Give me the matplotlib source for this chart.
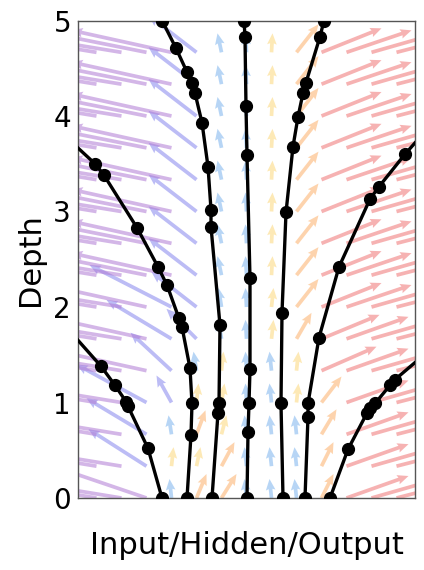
import numpy as np
import matplotlib
matplotlib.use("Agg")
import matplotlib.pyplot as plt

# ---------------- data ----------------
# vector-field grid: columns (hidden state) and rows (depth)
col_x = [-6, -5, -4, -3, -2, -1, 0, 1, 2, 3, 4, 5, 6]
row_depth = [0, 1/3, 2/3, 1, 4/3, 5/3, 2, 7/3, 8/3, 3, 10/3, 11/3, 4, 13/3, 14/3]

# horizontal component of each arrow (pixel-like units), rows bottom -> top
field_u = [
    [-110, -110, -100, -2, 10, 15, -2, -2, -2, 12, 62, 70, 70],
    [-110, -110, -58, 2, 4, 13, -2, -2, -2, 12, 62, 70, 70],
    [-110, -110, -60, -3, 9, 5, -2, -2, -2, 15, 62, 70, 70],
    [-110, -110, -70, -15, 2, 3, -1, -2, 2, 20, 62, 70, 70],
    [-110, -110, -100, -41, -3, 2, -1, -2, 2, 55, 62, 70, 70],
    [-110, -110, -100, -65, -30, -3, -1, 2, 15, 58, 62, 70, 70],
    [-110, -110, -100, -82, -45, -3, -1, 2, 22, 60, 65, 70, 70],
    [-110, -110, -100, -100, -48, -4, -1, 1, 22, 60, 65, 70, 70],
    [-110, -110, -100, -100, -48, -4, -1, 1, 22, 60, 65, 70, 70],
    [-110, -110, -100, -100, -48, -4, -1, 1, 22, 60, 65, 70, 70],
    [-110, -110, -100, -100, -48, -4, -1, 1, 22, 60, 65, 70, 70],
    [-110, -110, -100, -100, -48, -4, -1, 1, 22, 60, 65, 70, 70],
    [-110, -110, -100, -100, -48, -4, -1, 1, 22, 60, 65, 70, 70],
    [-110, -110, -100, -100, -48, -4, -1, 1, 22, 60, 65, 70, 70],
    [-110, -110, -100, -100, -48, -4, -1, 1, 22, 60, 65, 70, 70],
]
# vertical component of each arrow (pixel-like units), rows bottom -> top
field_v = [
    [18, 18, 34, 19, 24, 24, 19, 19, 19, 24, 22, 20, 18],
    [18, 18, 37, 19, 19, 24, 19, 19, 19, 24, 22, 20, 18],
    [18, 18, 36, 19, 24, 19, 19, 19, 19, 25, 22, 20, 18],
    [18, 18, 38, 27, 19, 19, 19, 19, 19, 26, 22, 20, 18],
    [18, 18, 22, 38, 19, 19, 19, 19, 19, 24, 22, 20, 18],
    [18, 18, 22, 39, 30, 19, 19, 19, 26, 24, 22, 20, 18],
    [18, 18, 22, 42, 35, 19, 19, 19, 28, 24, 22, 20, 18],
    [18, 18, 20, 22, 37, 19, 19, 19, 28, 24, 22, 20, 18],
    [18, 18, 20, 22, 37, 19, 19, 19, 28, 24, 22, 20, 18],
    [18, 18, 20, 22, 37, 19, 19, 19, 28, 24, 22, 20, 18],
    [18, 18, 20, 22, 37, 19, 19, 19, 28, 24, 22, 20, 18],
    [18, 18, 20, 22, 37, 19, 19, 19, 28, 24, 22, 20, 18],
    [18, 18, 20, 22, 37, 19, 19, 19, 28, 24, 22, 20, 18],
    [18, 18, 20, 22, 37, 19, 19, 19, 28, 24, 22, 20, 18],
    [18, 18, 20, 22, 37, 19, 19, 19, 28, 24, 22, 20, 18],
]

# trajectories (hidden value, depth); first/last points may lie outside the frame
traj_A_x = [-7.38, -5.82, -5.26, -4.82, -4.74, -3.94, -3.38]
traj_A_y = [1.84, 1.38, 1.18, 1.01, 0.96, 0.52, 0.0]
traj_B_x = [-7.38, -6.06, -5.70, -4.38, -3.54, -3.18, -2.70, -2.58, -2.26, -2.18, -2.22, -2.38]
traj_B_y = [3.82, 3.50, 3.38, 2.83, 2.42, 2.23, 1.88, 1.79, 1.36, 0.99, 0.66, 0.0]
traj_C_x = [-3.38, -2.82, -2.38, -2.18, -2.06, -1.78, -1.54, -1.42, -1.42, -1.06, -1.10, -1.14, -1.38]
traj_C_y = [5.0, 4.71, 4.46, 4.35, 4.24, 3.93, 3.47, 3.02, 2.84, 1.81, 0.99, 0.89, 0.0]
traj_D_x = [-0.10, -0.06, -0.02, 0.02, 0.14, 0.14, 0.10, 0.06, 0.02]
traj_D_y = [5.0, 4.83, 4.10, 3.59, 2.30, 1.35, 0.99, 0.69, 0.0]
traj_E_x = [3.10, 2.94, 2.38, 2.26, 2.06, 1.86, 1.58, 1.42, 1.38, 1.46]
traj_E_y = [5.0, 4.83, 4.35, 4.24, 3.99, 3.68, 2.99, 1.94, 0.99, 0.0]
traj_F_x = [2.34, 2.46, 2.46, 2.90, 3.70, 4.94, 5.30, 6.34, 7.42]
traj_F_y = [0.0, 0.85, 0.99, 1.68, 2.42, 3.13, 3.26, 3.60, 3.92]
traj_G_x = [3.34, 4.06, 4.82, 4.94, 5.14, 5.74, 5.94, 7.42]
traj_G_y = [0.0, 0.51, 0.89, 0.94, 0.99, 1.18, 1.24, 1.57]

y_ticks = [0, 1, 2, 3, 4, 5]
x_label = "Input/Hidden/Output"
y_label = "Depth"

# ---------------- figure ----------------
W, H = 424, 570
fig = plt.figure(figsize=(W / 100, H / 100), dpi=100)
ax = fig.add_axes([78 / W, (570 - 498) / H, (415 - 78) / W, (498 - 20.5) / H])
ax.set_xlim(-6.74, 6.74)
ax.set_ylim(0, 5)

px_x = 25.0   # pixels per x unit
px_y = 95.5   # pixels per depth unit


def arrow_color(u):
    if u <= -95:
        return "#b07ad4"
    if u <= -12:
        return "#8585ee"
    if u < 0:
        return "#7db4ee"
    if u < 7:
        return "#fcd77a"
    if u < 40:
        return "#fdb06a"
    return "#f07474"


X, Y, U, V, C = [], [], [], [], []
for i, d in enumerate(row_depth):
    for j, xc in enumerate(col_x):
        u = field_u[i][j]
        X.append(xc)
        Y.append(d)
        U.append(u / px_x)
        V.append(field_v[i][j] / px_y)
        C.append(arrow_color(u))

ax.quiver(X, Y, U, V, color=C, angles="xy", scale_units="xy", scale=1,
          pivot="tail", width=0.011, headwidth=2.6, headlength=3.0,
          headaxislength=2.7, alpha=0.55, zorder=1)

trajs = [(traj_A_x, traj_A_y), (traj_B_x, traj_B_y), (traj_C_x, traj_C_y),
         (traj_D_x, traj_D_y), (traj_E_x, traj_E_y), (traj_F_x, traj_F_y),
         (traj_G_x, traj_G_y)]
for tx, ty in trajs:
    ax.plot(tx, ty, color="black", lw=2.4, zorder=3)
    inside = [(a, b) for a, b in zip(tx, ty) if -6.74 <= a <= 6.74]
    ax.plot([p[0] for p in inside], [p[1] for p in inside], "o", color="black",
            ms=8.5, zorder=4, clip_on=True)

ax.set_yticks(y_ticks)
ax.set_yticklabels([str(t) for t in y_ticks])
ax.set_xticks([])
ax.tick_params(axis="y", length=0, labelsize=20, pad=5)
for s in ax.spines.values():
    s.set_color("#555555")
    s.set_linewidth(1.0)
ax.set_ylabel(y_label, fontsize=22, labelpad=6)
ax.set_xlabel(x_label, fontsize=22, labelpad=24)

fig.savefig("out.png", dpi=100)
